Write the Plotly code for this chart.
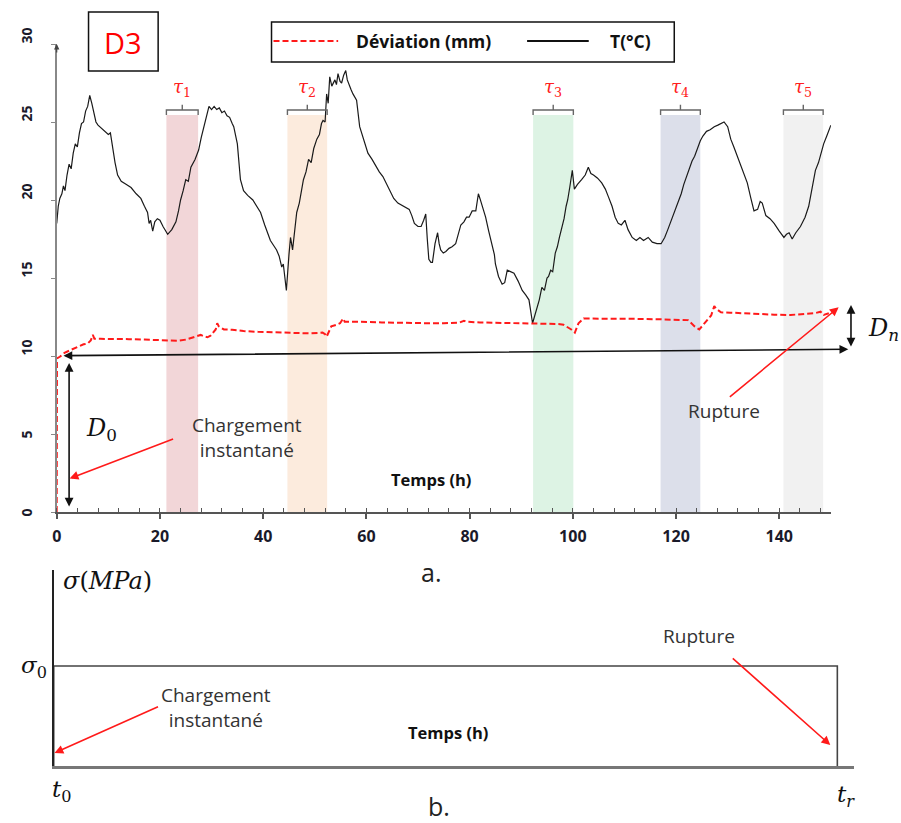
import plotly.graph_objects as go

W, H = 901, 823

# ---------------- data (top chart) ----------------
temp_t = [0, 0.3, 0.6, 1.0, 1.3, 1.6, 2.0, 2.4, 2.8, 3.2, 3.6, 4.0, 4.4, 4.8, 5.2, 5.6, 6.0, 6.4, 6.8, 7.2,
          7.6, 8.0, 8.6, 9.2, 10.0, 10.4, 10.8, 11.3, 11.8, 12.5, 13.5, 14.4, 15.4, 16.3, 17.0, 17.6, 17.9,
          18.2, 18.6, 19.0, 19.5, 20.0, 20.6, 21.5, 22.3, 23.1, 23.6, 24.0, 24.5, 25.0, 25.5, 26.0, 26.8,
          27.5, 28.0, 28.5, 29.0, 29.5, 30.0, 30.5, 31.0, 31.5, 32.0, 32.5, 33.0, 33.5, 34.0, 34.3, 35.0,
          35.6, 36.2, 37.0, 38.0, 38.8, 39.5, 40.3, 41.0, 41.4, 42.0, 42.6, 43.1, 43.6, 43.9, 44.2, 44.5,
          45.0, 45.3, 45.7, 46.1, 46.5, 47.0, 47.4, 47.8, 48.3, 48.8, 49.3, 49.8, 50.4, 50.9, 51.3, 51.6,
          52.0, 52.3, 52.6, 52.9, 53.3, 53.9, 54.2, 54.5, 54.9, 55.2, 55.6, 56.0, 56.3, 56.5, 57.0, 57.4,
          58.1, 58.7, 59.4, 60.3, 61.1, 61.9, 62.5, 63.2, 63.9, 64.5, 65.3, 66.1, 67.2, 68.3, 68.8, 69.3,
          70.0, 70.6, 71.1, 71.5, 71.8, 72.1, 72.5, 72.8, 73.3, 73.8, 74.1, 74.4, 74.9, 75.4, 76.0, 76.6,
          77.3, 77.8, 78.3, 78.9, 79.4, 79.9, 80.5, 81.2, 81.5, 81.7, 82.0, 82.5, 83.1, 83.7, 84.4, 84.8,
          85.0, 85.6, 86.3, 86.8, 87.3, 87.9, 88.6, 89.4, 90.2, 90.9, 91.5, 92.2, 93.0, 93.5, 94.0, 94.5,
          95.0, 95.3, 95.7, 96.1, 96.6, 97.0, 97.4, 97.9, 98.3, 98.7, 99.0, 99.4, 99.9, 100.3, 100.9, 101.7,
          102.4, 103.0, 103.5, 104.0, 104.8, 105.6, 106.3, 106.9, 107.6, 108.2, 108.8, 109.4, 110.1, 110.7,
          111.5, 112.3, 113.0, 113.7, 114.6, 115.4, 116.3, 117.1, 117.8, 118.4, 119.0, 119.7, 120.4, 121.0,
          121.5, 122.0, 122.6, 123.1, 123.6, 124.1, 124.7, 125.2, 125.9, 126.6, 127.4, 128.1, 128.7, 129.3,
          130.0, 130.6, 131.2, 131.9, 132.8, 133.8, 134.5, 135.1, 135.8, 136.3, 136.7, 137.4, 138.2, 139.0,
          140.0, 140.9, 141.4, 141.9, 142.5, 143.2, 144.1, 145.0, 145.7, 146.4, 147.0, 147.6, 148.1, 148.6,
          149.2, 150.0]
temp_v = [18.5, 19.6, 20.1, 20.4, 20.9, 20.6, 21.6, 22.3, 22.0, 23.0, 23.6, 23.4, 24.3, 24.9, 25.0, 25.7, 26.0,
          26.7, 26.2, 25.6, 25.0, 24.8, 24.6, 24.4, 24.2, 24.3, 23.3, 22.4, 21.6, 21.2, 21.0, 20.8, 20.4, 20.1,
          19.6, 19.2, 18.5, 18.7, 18.0, 18.6, 18.8, 18.7, 18.3, 17.8, 18.1, 18.6, 19.3, 20.0, 20.6, 21.3, 21.2,
          22.1, 22.6, 23.2, 24.0, 24.7, 25.5, 26.0, 25.8, 26.0, 25.8, 25.9, 25.6, 25.7, 25.4, 25.3, 24.9, 24.7,
          23.6, 21.3, 20.6, 20.3, 20.0, 19.6, 19.2, 18.4, 17.7, 17.4, 17.1, 16.8, 16.4, 15.7, 15.9, 15.1, 14.2,
          16.5, 17.6, 16.8, 18.0, 19.2, 19.8, 20.6, 21.3, 21.8, 22.6, 22.4, 23.3, 23.9, 24.2, 24.9, 25.1, 25.0,
          26.8, 26.2, 27.9, 27.3, 27.7, 27.4, 28.1, 27.6, 27.5, 28.0, 28.3, 27.7, 27.5, 27.1, 26.8, 26.4, 24.7,
          23.9, 23.0, 22.6, 22.1, 21.8, 21.5, 21.0, 20.6, 20.1, 19.8, 19.6, 19.4, 19.0, 18.5, 18.3, 18.3, 18.7,
          19.1, 17.5, 16.2, 16.0, 16.0, 17.2, 17.9, 17.2, 16.8, 16.6, 16.7, 16.9, 17.0, 17.2, 17.9, 18.4, 18.6,
          18.9, 18.9, 19.3, 19.3, 19.9, 20.4, 20.1, 19.6, 18.9, 18.0, 17.1, 16.5, 15.9, 15.1, 14.6, 14.7, 15.5,
          15.4, 15.3, 14.8, 14.2, 13.9, 13.6, 12.1, 13.0, 13.6, 14.4, 14.2, 15.0, 15.1, 15.5, 15.4, 16.6, 17.0,
          17.6, 18.3, 18.8, 19.6, 20.0, 20.8, 21.9, 20.7, 21.0, 21.3, 21.6, 22.1, 21.7, 21.6, 21.4, 21.1, 20.7,
          20.2, 19.6, 18.9, 18.5, 18.4, 18.7, 18.1, 17.6, 17.4, 17.6, 17.4, 17.6, 17.3, 17.2, 17.2, 17.6, 18.1,
          18.6, 19.2, 19.8, 20.4, 21.0, 21.5, 22.0, 22.5, 22.8, 23.3, 23.8, 24.1, 24.4, 24.5, 24.7, 24.8, 24.9,
          25.0, 24.7, 23.9, 23.4, 22.8, 22.0, 21.1, 20.1, 19.3, 19.4, 19.9, 19.8, 19.0, 18.8, 18.5, 18.0, 17.6,
          17.8, 17.9, 17.5, 17.9, 18.3, 18.9, 19.6, 20.8, 21.9, 22.4, 23.0, 23.6, 24.1, 24.8]

dev_t = [0, 0.05, 0.6, 1.5, 2.8, 4.1, 5.2, 6.0, 6.6, 7.0, 7.3, 8.5, 10.5, 14, 17, 20, 23.4, 25, 26.6, 27.3,
         27.9, 28.6, 29.2, 29.8, 30.4, 30.8, 31.1, 31.4, 31.7, 32.4, 34, 36.2, 39, 42.6, 46, 49.1, 51.5, 52.0,
         52.3, 52.8, 53.2, 54.2, 54.9, 55.5, 55.8, 57, 58.7, 63, 68.3, 72, 75, 78.0, 78.9, 79.3, 82, 86, 89,
         92.1, 95, 97.2, 98.2, 98.8, 99.7, 100.4, 100.8, 101.1, 102.1, 104, 106.9, 112, 117, 120, 122.3,
         122.8, 123.6, 124.5, 125.3, 126.1, 126.8, 127.4, 127.8, 128.1, 128.7, 130.5, 132.6, 136, 139, 142.2,
         145, 147, 148.0, 148.6, 149.6]
dev_v = [0, 9.85, 9.95, 10.2, 10.4, 10.6, 10.75, 10.8, 11.0, 11.35, 11.1, 11.1, 11.1, 11.08, 11.05, 11.0,
         10.98, 11.05, 11.24, 11.3, 11.35, 11.25, 11.2, 11.3, 11.5, 11.7, 12.1, 11.9, 11.84, 11.7, 11.68,
         11.6, 11.55, 11.5, 11.47, 11.45, 11.5, 11.4, 11.24, 11.6, 11.9, 12.0, 12.1, 12.4, 12.2, 12.2, 12.2,
         12.15, 12.1, 12.1, 12.1, 12.14, 12.26, 12.2, 12.15, 12.12, 12.1, 12.1, 12.07, 12.05, 12.0, 11.9,
         11.7, 11.5, 11.8, 12.1, 12.4, 12.4, 12.4, 12.38, 12.35, 12.33, 12.3, 12.15, 11.9, 11.7, 12.0, 12.3,
         12.6, 13.2, 13.0, 12.95, 12.8, 12.78, 12.74, 12.68, 12.65, 12.63, 12.68, 12.75, 12.84, 12.63, 12.74]

band_start = [21.25, 44.7, 92.3, 117.0, 140.8]
band_end = [27.4, 52.4, 100.1, 124.7, 148.5]
band_colors = ['#F2D6D8', '#FCEBDD', '#DDF3E4', '#DCDFEA', '#F1F1F1']
band_names = ['1', '2', '3', '4', '5']
band_top = 25.45

x_ticks = [0, 20, 40, 60, 80, 100, 120, 140]
y_ticks = [0, 5, 10, 15, 20, 25, 30]

# ---------------- data (bottom diagram) ----------------
stress_t = [0, 0, 1, 1]
stress_s = [0, 1, 1, 0]

SANS = 'Open Sans'
SERIF = 'DejaVu Serif'


def P(xp, yp):
    return xp / W, 1 - yp / H


fig = go.Figure()

fig.add_trace(go.Scatter(x=temp_t, y=temp_v, mode='lines', line=dict(color='#1a1a1a', width=1.2),
                         xaxis='x', yaxis='y', showlegend=False, hoverinfo='skip'))
fig.add_trace(go.Scatter(x=dev_t, y=dev_v, mode='lines', line=dict(color='#FF1A1A', width=2, dash='6px,3px'),
                         xaxis='x', yaxis='y', showlegend=False, hoverinfo='skip'))
fig.add_trace(go.Scatter(x=stress_t, y=stress_s, mode='lines', line=dict(color='#444444', width=1.6),
                         xaxis='x2', yaxis='y2', showlegend=False, hoverinfo='skip', cliponaxis=False))

shapes = []
annotations = []


def label(xp, yp, text, size, family=SANS, color='#222', xanchor='center'):
    xa, ya = P(xp, yp)
    annotations.append(dict(xref='paper', yref='paper', x=xa, y=ya, text=text, showarrow=False,
                            xanchor=xanchor, yanchor='middle',
                            font=dict(family=family, size=size, color=color)))


# y tick labels (rotated, as in the reference)
for v in y_ticks:
    xa, _ = P(21.5, 0)
    annotations.append(dict(xref='paper', yref='y', x=xa, y=v, text=f'<b>{v}</b>', showarrow=False,
                            textangle=-90, xanchor='center', yanchor='middle',
                            yshift=9 if v >= 10 else 0,
                            font=dict(family=SANS, size=14, color='#1a1a2a')))

# bands and brackets
for s, e, c, n in zip(band_start, band_end, band_colors, band_names):
    shapes.append(dict(type='rect', xref='x', yref='y', x0=s, x1=e, y0=0, y1=band_top,
                       fillcolor=c, line=dict(width=0), layer='below'))
    m = (s + e) / 2
    shapes.append(dict(type='path', xref='x', yref='y',
                       path=f'M {s},{band_top} L {s},25.77 L {e},25.77 L {e},{band_top} M {m},25.77 L {m},26.1',
                       line=dict(color='#666666', width=1.4)))
    annotations.append(dict(xref='x', yref='y', x=m, y=27.2, showarrow=False, xanchor='center',
                            yanchor='middle', text=f'<i>τ</i><sub>{n}</sub>',
                            font=dict(family=SERIF, size=18, color='#FF2020')))

# D3 box
x0, y0 = P(84, 12); x1, y1 = P(154, 71)
shapes.append(dict(type='rect', xref='paper', yref='paper', x0=x0, y0=y0, x1=x1, y1=y1,
                   line=dict(color='#111', width=1.5), fillcolor='rgba(0,0,0,0)'))
label(119, 42, 'D3', 29, color='#FF0000')

# legend box
x0, y0 = P(268, 22); x1, y1 = P(673, 62)
shapes.append(dict(type='rect', xref='paper', yref='paper', x0=x0, y0=y0, x1=x1, y1=y1,
                   line=dict(color='#111', width=1.5), fillcolor='white'))
lx0, ly = P(270, 41); lx1, _ = P(335, 41)
shapes.append(dict(type='line', xref='paper', yref='paper', x0=lx0, x1=lx1, y0=ly, y1=ly,
                   line=dict(color='#FF1A1A', width=2, dash='6px,3px')))
lx0, _ = P(525, 41); lx1, _ = P(587, 41)
shapes.append(dict(type='line', xref='paper', yref='paper', x0=lx0, x1=lx1, y0=ly, y1=ly,
                   line=dict(color='#111', width=2)))
label(421, 41, '<b>Déviation (mm)</b>', 17.5, color='#111')
label(629, 41, '<b>T(°C)</b>', 17.5, color='#111')

# y axis arrow tip
annotations.append(dict(xref='x', yref='y', x=0, y=30, ax=0, ay=10, axref='pixel', ayref='pixel', text='',
                        showarrow=True, arrowhead=2, arrowsize=0.9, arrowwidth=1.2, arrowcolor='#444'))

# horizontal double arrow at D0 level
xa, ya = P(848, 349.3)
annotations.append(dict(xref='paper', yref='paper', x=xa, y=ya, ax=61.7 - 848, ay=355.7 - 349.3, text='',
                        showarrow=True, arrowhead=2, startarrowhead=2, arrowside='end+start', arrowsize=1.1,
                        arrowwidth=1.6, arrowcolor='#111'))
# D0 vertical double arrow
annotations.append(dict(xref='x', yref='y', x=2.4, y=9.55, axref='x', ayref='y', ax=2.4, ay=0.25, text='',
                        showarrow=True, arrowhead=2, startarrowhead=2, arrowside='end+start', arrowsize=1.1,
                        arrowwidth=1.6, arrowcolor='#111'))
label(97, 430, '<i>D</i><sub>0</sub>', 24, family=SERIF, color='#111')
# Dn vertical arrow
xa, ya = P(850.7, 305)
annotations.append(dict(xref='paper', yref='paper', x=xa, y=ya, ax=0, ay=43, text='',
                        showarrow=True, arrowhead=2, startarrowhead=2, arrowside='end+start', arrowsize=1.1,
                        arrowwidth=1.6, arrowcolor='#111'))
label(883, 330, '<i>D</i><sub><i>n</i></sub>', 24, family=SERIF, color='#111')

# Chargement instantané (top)
label(243, 437, 'Chargement<br>instantané', 19, color='#333')
annotations.append(dict(xref='x', yref='y', x=2.5, y=2.15, ax=105, ay=-40, axref='pixel', ayref='pixel',
                        text='', showarrow=True, arrowhead=2, arrowsize=1.1, arrowwidth=1.6,
                        arrowcolor='#FF1A1A'))
# Rupture (top)
label(723, 411, 'Rupture', 19, color='#333')
xa, ya = P(838.3, 307.3)
annotations.append(dict(xref='paper', yref='paper', x=xa, y=ya, ax=728 - 838.3, ay=398 - 307.3,
                        text='', showarrow=True, arrowhead=2, arrowsize=1.1, arrowwidth=1.6,
                        arrowcolor='#FF1A1A'))
# Temps (h) top
label(428, 480, '<b>Temps (h)</b>', 16.5, color='#111')
# captions
label(428, 572, 'a.', 25, color='#222')
label(436, 806, 'b.', 25, color='#222')

# bottom diagram labels
label(56, 581, '<i>σ</i>(<i>MPa</i>)', 24, family=SERIF, color='#111', xanchor='left')
label(29, 667, '<i>σ</i><sub>0</sub>', 23, family=SERIF, color='#111')
label(57, 791, '<i>t</i><sub>0</sub>', 23, family=SERIF, color='#111')
label(846, 796, '<i>t</i><sub><i>r</i></sub>', 23, family=SERIF, color='#111')
label(212, 707, 'Chargement<br>instantané', 19, color='#333')
annotations.append(dict(xref='x2', yref='y2', x=0.001, y=0.13, ax=105, ay=-47, axref='pixel', ayref='pixel',
                        text='', showarrow=True, arrowhead=2, arrowsize=1.1, arrowwidth=1.6,
                        arrowcolor='#FF1A1A'))
label(698, 636, 'Rupture', 19, color='#333')
annotations.append(dict(xref='x2', yref='y2', x=0.991, y=0.21, ax=-99, ay=-88, axref='pixel', ayref='pixel',
                        text='', showarrow=True, arrowhead=2, arrowsize=1.1, arrowwidth=1.6,
                        arrowcolor='#FF1A1A'))
label(445, 732, '<b>Temps (h)</b>', 16.5, color='#111')

fig.update_layout(
    width=W, height=H, margin=dict(l=0, r=0, t=0, b=0),
    paper_bgcolor='white', plot_bgcolor='rgba(0,0,0,0)',
    showlegend=False,
    xaxis=dict(domain=[52 / W, 830.5 / W], range=[0, 150], tickmode='array', tickvals=x_ticks,
               showgrid=False, zeroline=False, showline=True, linecolor='#555', linewidth=1.5,
               ticks='outside', ticklen=5, tickwidth=1.5, tickcolor='#555',
               minor=dict(tick0=0, dtick=4, ticks='inside', ticklen=4, tickwidth=1, tickcolor='#555'),
               tickfont=dict(family=SANS, size=16, color='#1a1a2a', weight='bold'),
               ticklabelstandoff=4, anchor='y'),
    yaxis=dict(domain=[(H - 512) / H, (H - 44) / H], range=[0, 30], tickmode='array', tickvals=y_ticks,
               showgrid=False, zeroline=False, showline=True, linecolor='#888', linewidth=1.5,
               ticks='outside', ticklen=4, tickwidth=1, tickcolor='#888', showticklabels=False,
               anchor='x'),
    xaxis2=dict(domain=[49 / W, 854 / W], range=[0, 1.0216], showgrid=False, zeroline=False,
                showline=True, linecolor='#777', linewidth=2.5, showticklabels=False, ticks='', anchor='y2'),
    yaxis2=dict(domain=[(H - 766) / H, (H - 570) / H], range=[0, 1.96], showgrid=False, zeroline=False,
                showline=True, linecolor='#222', linewidth=2, showticklabels=False, ticks='', anchor='x2'),
    shapes=shapes,
    annotations=annotations,
)

fig.write_html('out.html', post_script="document.body.style.margin='0px';")
